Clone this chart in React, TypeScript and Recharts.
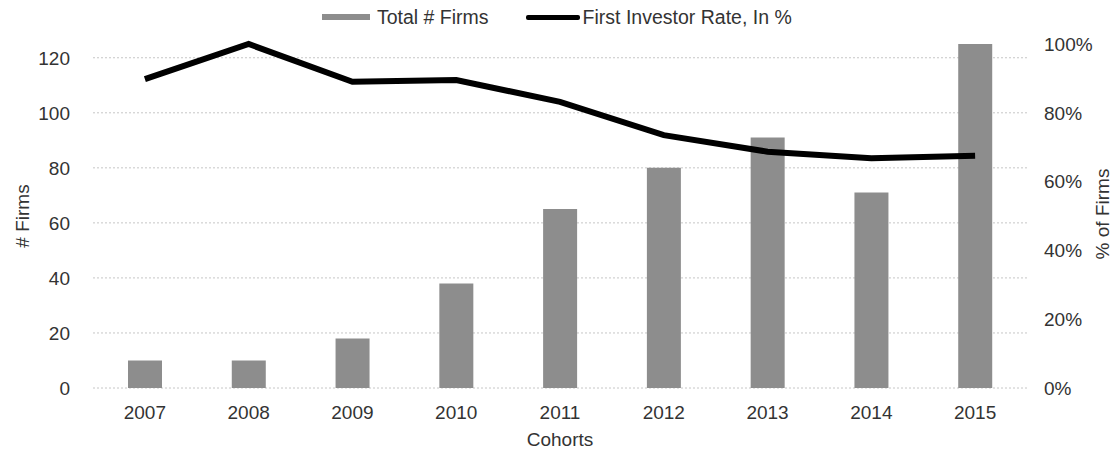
import {
  ComposedChart,
  Bar,
  Line,
  XAxis,
  YAxis,
  CartesianGrid,
  Legend,
} from 'recharts'

const cohorts = ['2007', '2008', '2009', '2010', '2011', '2012', '2013', '2014', '2015']
const totalFirms = [10, 10, 18, 38, 65, 80, 91, 71, 125]
const firstInvestorRate = [0.898, 1.0, 0.89, 0.895, 0.832, 0.735, 0.687, 0.668, 0.675]
const firmTicks = [0, 20, 40, 60, 80, 100, 120]
const rateTicks = [0, 0.2, 0.4, 0.6, 0.8, 1]

const data = cohorts.map((c, i) => ({
  cohort: c,
  firms: totalFirms[i],
  rate: firstInvestorRate[i],
}))

const FONT = '"Liberation Sans", Arial, sans-serif'
const TEXT = '#333333'
const BAR_FILL = '#8d8d8d'

function ChartLegend() {
  return (
    <div
      style={{
        height: 30,
        display: 'flex',
        alignItems: 'center',
        paddingLeft: 322,
        fontFamily: FONT,
        fontSize: 19.5,
        color: TEXT,
      }}
    >
      <span style={{ display: 'inline-block', width: 48, height: 6, background: BAR_FILL }} />
      <span style={{ marginLeft: 7 }}>Total # Firms</span>
      <span
        style={{
          display: 'inline-block',
          width: 54,
          height: 5,
          borderRadius: 2,
          background: '#000',
          marginLeft: 37,
        }}
      />
      <span style={{ marginLeft: 3 }}>First Investor Rate, In %</span>
    </div>
  )
}

export default function App() {
  const tickStyle = { fill: TEXT, fontSize: 19, fontFamily: FONT }
  return (
    <div style={{ position: 'absolute', left: 0, top: 0, fontFamily: FONT }}>
      <ComposedChart
        width={1116}
        height={450}
        data={data}
        margin={{ top: 14, right: 0, bottom: 0, left: 0 }}
      >
        <CartesianGrid
          yAxisId='left'
          vertical={false}
          syncWithTicks
          stroke='#c6c6c6'
          strokeDasharray='2 2'
        />
        <XAxis
          dataKey='cohort'
          axisLine={false}
          tickLine={false}
          tickSize={0}
          tickMargin={18}
          tick={tickStyle}
          height={62}
          label={() => (
            <text x={560} y={446} textAnchor='middle' fill={TEXT} fontSize={19} fontFamily={FONT}>
              Cohorts
            </text>
          )}
        />
        <YAxis
          yAxisId='left'
          orientation='left'
          width={93}
          domain={[0, 125]}
          ticks={firmTicks}
          axisLine={false}
          tickLine={false}
          tickSize={0}
          tickMargin={23}
          tick={tickStyle}
          label={() => (
            <text
              x={22}
              y={216}
              transform='rotate(-90 22 216)'
              textAnchor='middle'
              dominantBaseline='central'
              fill={TEXT}
              fontSize={19}
              fontFamily={FONT}
            >
              # Firms
            </text>
          )}
        />
        <YAxis
          yAxisId='right'
          orientation='right'
          width={89}
          domain={[0, 1]}
          ticks={rateTicks}
          axisLine={false}
          tickLine={false}
          tickSize={0}
          tickMargin={17}
          tick={tickStyle}
          tickFormatter={(v: number) => `${Math.round(v * 100)}%`}
          label={() => (
            <text
              x={1102}
              y={214}
              transform='rotate(-90 1102 214)'
              textAnchor='middle'
              dominantBaseline='central'
              fill={TEXT}
              fontSize={19}
              fontFamily={FONT}
            >
              % of Firms
            </text>
          )}
        />
        <Legend
          verticalAlign='top'
          content={() => <ChartLegend />}
          wrapperStyle={{ top: 2, left: 0, width: 1116 }}
        />
        <Bar
          yAxisId='left'
          dataKey='firms'
          name='Total # Firms'
          fill={BAR_FILL}
          barSize={34}
          isAnimationActive={false}
        />
        <Line
          yAxisId='right'
          dataKey='rate'
          name='First Investor Rate, In %'
          type='linear'
          stroke='#000'
          strokeWidth={6}
          dot={false}
          activeDot={false}
          isAnimationActive={false}
        />
      </ComposedChart>
    </div>
  )
}
